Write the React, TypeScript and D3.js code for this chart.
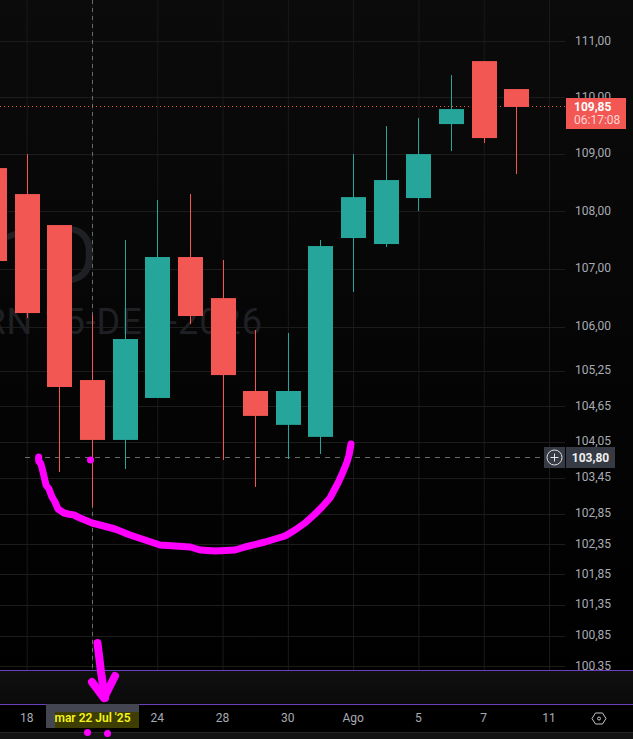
import React from "react";
import * as d3 from "d3";

const dates = ["17","18","21","22","23","24","25","28","29","30","31","1","4","5","6","7","8","11"];
const opens = [108.752,108.297,107.757,105.095,104.084,104.791,107.202,106.494,104.909,104.337,104.135,107.531,107.427,108.227,109.527,110.646,110.148];
const highs = [108.752,108.998,107.757,106.203,107.497,108.192,108.297,107.15,105.947,105.896,107.497,108.998,109.492,109.633,110.397,110.646,110.148];
const lows = [107.133,106.152,103.547,102.965,103.597,104.791,106.049,103.747,103.297,103.764,103.848,106.597,107.375,108.001,109.051,109.192,108.647];
const closes = [107.133,106.237,104.977,104.084,105.793,107.202,106.186,105.179,104.488,104.909,107.392,108.244,108.542,108.998,109.793,109.28,109.83];
const priceTicks = [111,110,109,108,107,106,105.25,104.65,104.05,103.45,102.85,102.35,101.85,101.35,100.85,100.35];
const timeTicks: [string,string][] = [["18","18"],["24","24"],["28","28"],["30","30"],["1","Ago"],["5","5"],["7","7"],["11","11"]];
const gridDates = ["18","22","24","28","30","1","5","7","11"];
const lastPrice = 109.85;
const crossPrice = 103.8;
const crossDate = "22";
const drawnCurve: [number,number][] = [[38.7,457],[38.7,461],[41,464],[43,472],[46,485],[49,489],[52,497],[55,502],[58,509],[64,513],[68,514],[74,515],[80,518],[92,523],[100,525],[115,529],[130,535],[145,540],[160,545],[175,546],[190,547],[200,550],[215,551],[235,550],[245,547],[265,542],[285,536],[295,530],[305,523],[315,514],[322,507],[330,498],[338,483],[343,472],[347,462],[349,455],[351,444]];
const drawnArrow: [number,number][][] = [[[97.5,643],[101,672],[105,698]],[[92,682],[104,698],[115,676]]];
const drawnDots: [number,number][] = [[90.5,460],[87.5,732.5],[107.5,733.5]];

const fmt = (v: number) => v.toFixed(2).replace(".", ",");
const RED = "#f25754";
const TEAL = "#26a69a";
const FONT = "Roboto, Arial, sans-serif";

export default function App() {
  const y = d3.scaleLog().domain([100.35, 111]).range([666.3, 41.3]);
  const x = d3.scalePoint<string>().domain(dates).range([-6, 549]);
  const line = d3.line();
  const bw = 25;
  return (
    <svg width={633} height={739} style={{ position: "absolute", left: 0, top: 0, display: "block" }} fontFamily={FONT}>
      <defs>
        <linearGradient id="bg" x1="0" y1="0" x2="0" y2="1">
          <stop offset="0" stopColor="#0b0b0b" />
          <stop offset="1" stopColor="#000000" />
        </linearGradient>
        <linearGradient id="band" x1="0" y1="0" x2="0" y2="1">
          <stop offset="0" stopColor="#101010" />
          <stop offset="1" stopColor="#0a0a0a" />
        </linearGradient>
      </defs>
      <rect width={633} height={670} fill="url(#bg)" />
      {gridDates.map(d => (
        <line key={d} x1={x(d)! + 0.5} x2={x(d)! + 0.5} y1={0} y2={670} stroke="#1a1a1a" />
      ))}
      {priceTicks.map(t => (
        <line key={t} x1={0} x2={565} y1={Math.round(y(t)) + 0.5} y2={Math.round(y(t)) + 0.5} stroke="#1c1c1c" />
      ))}
      <text x={98} y={283} textAnchor="end" fontSize={80} fill="#1f2024">1D</text>
      <text x={263} y={334} textAnchor="end" fontSize={36} letterSpacing={1} fill="#1f2024">RN 15-DEC-2026</text>

      <line x1={Math.round(x(crossDate)!) + 0.5} x2={Math.round(x(crossDate)!) + 0.5} y1={0} y2={704} stroke="#6a6a6a" strokeDasharray="4 4" />
      <line x1={25} x2={544} y1={Math.round(y(crossPrice)) + 0.5} y2={Math.round(y(crossPrice)) + 0.5} stroke="#6a6a6a" strokeDasharray="5 5" />
      <line x1={0} x2={566} y1={Math.round(y(lastPrice)) + 0.5} y2={Math.round(y(lastPrice)) + 0.5} stroke={RED} strokeDasharray="1 3" />

      {opens.map((o, i) => {
        const c = closes[i];
        const col = c >= o ? TEAL : RED;
        const cx = Math.round(x(dates[i])!);
        const top = y(Math.max(o, c));
        const bot = y(Math.min(o, c));
        return (
          <g key={i}>
            <line x1={cx + 0.5} x2={cx + 0.5} y1={y(highs[i])} y2={y(lows[i])} stroke={col} />
            <rect x={cx - 12} y={top} width={bw} height={bot - top} fill={col} />
          </g>
        );
      })}

      {priceTicks.map(t => (
        <text key={t} x={593} y={y(t) + 3.5} textAnchor="middle" fontSize={12} fill="#a8abb3">{fmt(t)}</text>
      ))}

      <rect x={0} y={671} width={633} height={33} fill="url(#band)" />
      <line x1={0} x2={633} y1={670.5} y2={670.5} stroke="#6a3fc0" />
      <rect x={0} y={705} width={633} height={27} fill="#000" />
      <line x1={0} x2={633} y1={704.5} y2={704.5} stroke="#6a3fc0" />
      <rect x={0} y={732} width={633} height={7} fill="#131313" />
      <line x1={0} x2={633} y1={732.5} y2={732.5} stroke="#262626" />

      {timeTicks.map(([d, l]) => (
        <text key={d} x={x(d)!} y={722} textAnchor="middle" fontSize={12} fill="#a8abb3">{l}</text>
      ))}
      <rect x={46} y={704} width={93} height={24} fill="#434651" />
      <rect x={55} y={712} width={84} height={16} fill="#3e3e00" />
      <text x={92.5} y={722} textAnchor="middle" fontSize={12} fontWeight={600} fill="#f4f41a">mar 22 Jul '25</text>
      <path d="M592 718.5 L595.5 713 L602.5 713 L606 718.5 L602.5 724 L595.5 724 Z" fill="none" stroke="#c8c8c8" />
      <circle cx={599} cy={718.5} r={1.5} fill="none" stroke="#c8c8c8" />

      <rect x={566} y={98} width={60} height={31} fill={RED} />
      <text x={574} y={111} fontSize={12} fontWeight={700} fill="#fff">{fmt(lastPrice)}</text>
      <text x={574} y={124} fontSize={12} fill="#ffd5d3">06:17:08</text>

      <rect x={544} y={447} width={21} height={21} fill="#363a45" />
      <circle cx={554.5} cy={457.5} r={7.5} fill="none" stroke="#e0e0e0" />
      <path d="M554.5 453.5 V461.5 M550.5 457.5 H558.5" stroke="#e8e8e8" />
      <rect x={566} y={447} width={49} height={21} fill="#363a45" />
      <text x={590.5} y={462} textAnchor="middle" fontSize={12} fontWeight={700} fill="#f0f0f0">{fmt(crossPrice)}</text>

      <path d={line(drawnCurve)!} fill="none" stroke="#ff00ff" strokeWidth={7} strokeLinecap="round" strokeLinejoin="round" />
      {drawnArrow.map((a, i) => (
        <path key={i} d={line(a)!} fill="none" stroke="#ff00ff" strokeWidth={8} strokeLinecap="round" strokeLinejoin="round" />
      ))}
      {drawnDots.map((p, i) => (
        <circle key={i} cx={p[0]} cy={p[1]} r={3.5} fill="#ff00ff" />
      ))}
    </svg>
  );
}
